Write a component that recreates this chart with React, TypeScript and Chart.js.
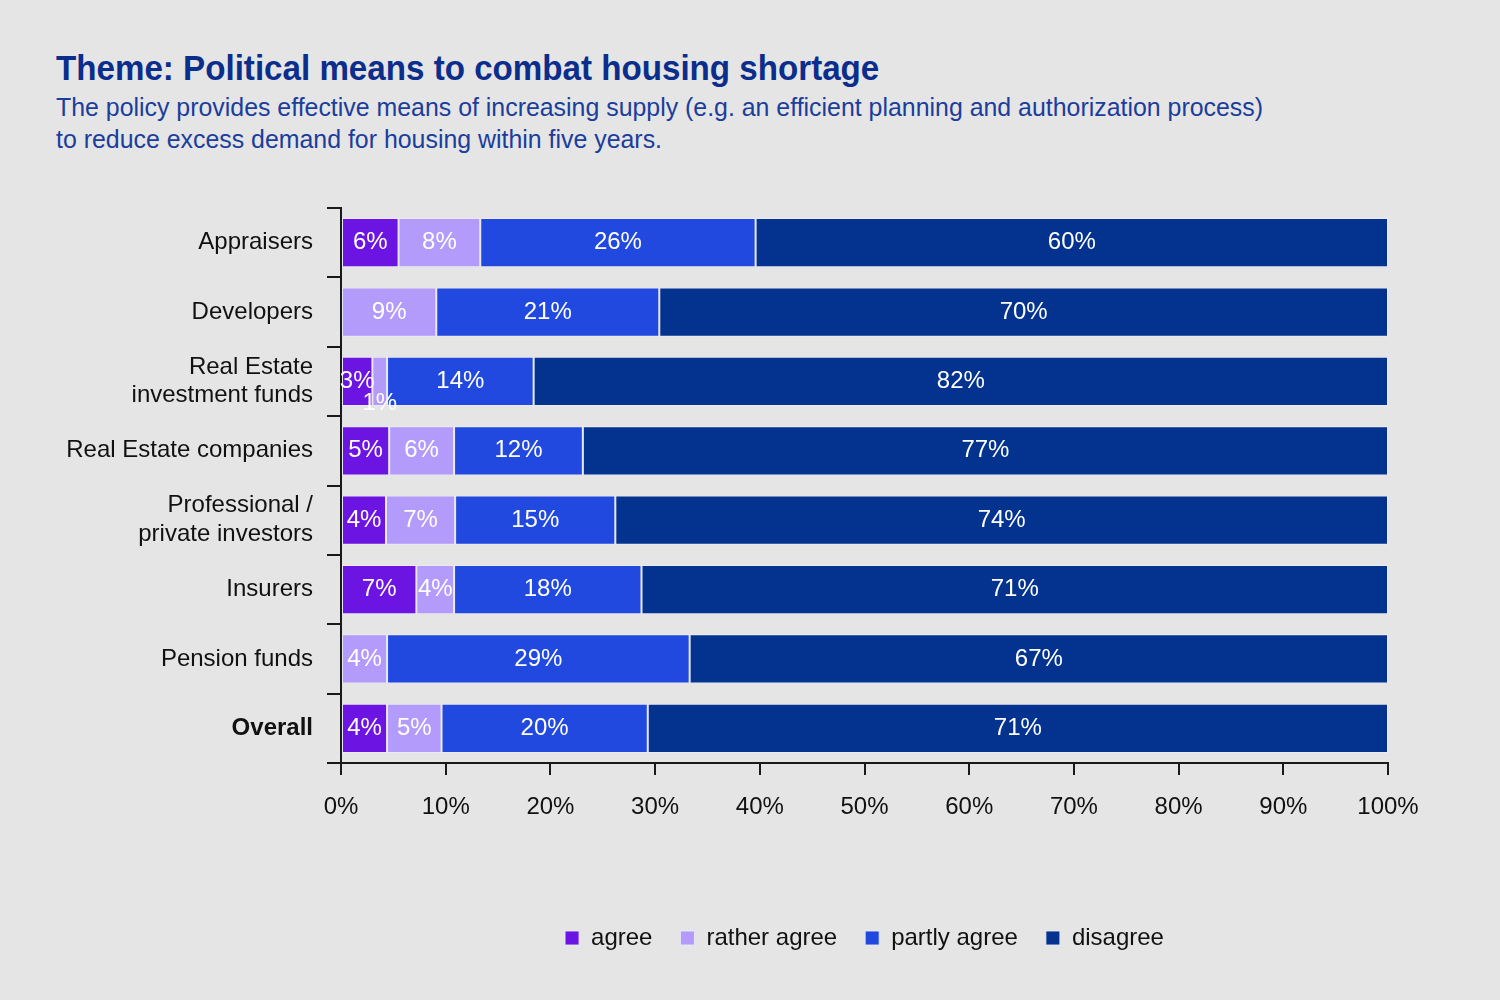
import React, { useEffect, useRef } from "react";
import { Chart, registerables } from "chart.js";

Chart.register(...registerables);

const categories: (string | string[])[] = [
  "Appraisers",
  "Developers",
  ["Real Estate", "investment funds"],
  "Real Estate companies",
  ["Professional /", "private investors"],
  "Insurers",
  "Pension funds",
  "Overall",
];
const agree = [5.5, 0, 3.0, 4.6, 4.3, 7.2, 0, 4.4];
const ratherAgree = [7.8, 9.1, 1.4, 6.2, 6.6, 3.6, 4.4, 5.2];
const partlyAgree = [26.3, 21.3, 14.0, 12.3, 15.3, 17.9, 28.9, 19.7];
const disagree = [60.4, 69.6, 81.6, 76.9, 73.8, 71.3, 66.7, 70.7];
const seriesNames = ["agree", "rather agree", "partly agree", "disagree"];
const seriesColors = ["#6c14e2", "#b39bfb", "#2149e0", "#03338f"];
const xTicks = [0, 10, 20, 30, 40, 50, 60, 70, 80, 90, 100];

const FONT = "'Liberation Sans', Arial, sans-serif";

const barLabels = {
  id: "barLabels",
  afterDatasetsDraw(chart: any) {
    const ctx = chart.ctx;
    ctx.save();
    ctx.font = `24px ${FONT}`;
    ctx.fillStyle = "#ffffff";
    ctx.textAlign = "center";
    ctx.textBaseline = "middle";
    chart.data.datasets.forEach((ds: any, di: number) => {
      const meta = chart.getDatasetMeta(di);
      meta.data.forEach((bar: any, i: number) => {
        const v = ds.data[i];
        if (!v) return;
        const w = Math.abs(bar.x - bar.base);
        const cx = (bar.x + bar.base) / 2;
        const cy = bar.y + (w < 20 ? 22 : 0);
        ctx.fillText(Math.round(v) + "%", cx, cy);
      });
    });
    ctx.restore();
  },
};

export default function App() {
  const ref = useRef<HTMLCanvasElement | null>(null);
  const titleRef = useRef<HTMLSpanElement | null>(null);
  useEffect(() => {
    if (titleRef.current) {
      const w = titleRef.current.offsetWidth;
      if (w > 0) titleRef.current.style.transform = `scaleX(${823 / w})`;
    }
    if (!ref.current) return;
    const data = [agree, ratherAgree, partlyAgree, disagree];
    const chart = new Chart(ref.current, {
      type: "bar",
      data: {
        labels: categories,
        datasets: data.map((d, k) => ({
          label: seriesNames[k],
          data: d,
          backgroundColor: seriesColors[k],
          borderColor: "rgba(235,235,250,0.85)",
          borderWidth: 1,
          borderSkipped: false,
          barPercentage: 0.71,
          categoryPercentage: 1,
        })),
      },
      options: {
        indexAxis: "y",
        animation: false,
        responsive: false,
        devicePixelRatio: 1,
        layout: { padding: { top: 208, left: 0, right: 112, bottom: 40 } },
        plugins: {
          tooltip: { enabled: false },
          title: { display: false },
          legend: {
            position: "bottom",
            fullSize: false,
            labels: {
              boxWidth: 14,
              boxHeight: 14,
              padding: 28,
              color: "#111",
              font: { family: FONT, size: 24 },
            },
          },
        },
        scales: {
          x: {
            stacked: true,
            min: 0,
            max: 100,
            afterBuildTicks: (s: any) => {
              s.ticks = xTicks.map((v) => ({ value: v }));
            },
            afterFit: (s: any) => {
              s.height = 135;
            },
            ticks: {
              callback: (v: any) => v + "%",
              color: "#111",
              padding: 18,
              font: { family: FONT, size: 24 },
            },
            grid: {
              drawOnChartArea: false,
              drawTicks: true,
              tickLength: 12,
              color: "#1a1a1a",
              lineWidth: 2,
            },
            border: { display: true, color: "#1a1a1a", width: 2 },
          },
          y: {
            stacked: true,
            afterFit: (s: any) => {
              s.width = 341;
            },
            ticks: {
              color: "#111",
              padding: 14,
              font: (c: any) => ({
                family: FONT,
                size: 24,
                weight: c.index === 7 ? "bold" : "normal",
              }),
            },
            grid: {
              offset: true,
              drawOnChartArea: false,
              drawTicks: true,
              tickLength: 14,
              color: "#1a1a1a",
              lineWidth: 2,
            },
            border: { display: true, color: "#1a1a1a", width: 2 },
          },
        },
      },
      plugins: [barLabels],
    });
    return () => chart.destroy();
  }, []);

  return (
    <div
      style={{
        position: "fixed",
        left: 0,
        top: 0,
        width: 1500,
        height: 1000,
        background: "#e5e5e5",
        overflow: "hidden",
      }}
    >
      <div
        style={{
          position: "absolute",
          left: 56,
          top: 50,
          fontFamily: FONT,
          fontWeight: "bold",
          fontSize: 35,
          lineHeight: "36px",
          color: "#0b2d8c",
          whiteSpace: "nowrap",
        }}
      >
        <span
          ref={titleRef}
          style={{ display: "inline-block", transformOrigin: "0 50%" }}
        >
          Theme: Political means to combat housing shortage
        </span>
      </div>
      <div
        style={{
          position: "absolute",
          left: 56,
          top: 91,
          fontFamily: FONT,
          fontSize: 24.9,
          lineHeight: "32px",
          color: "#1b3d9c",
          whiteSpace: "nowrap",
        }}
      >
        The policy provides effective means of increasing supply (e.g. an efficient planning and authorization process)
        <br />
        to reduce excess demand for housing within five years.
      </div>
      <canvas
        ref={ref}
        width={1500}
        height={1000}
        style={{ position: "absolute", left: 0, top: 0, width: 1500, height: 1000 }}
      />
    </div>
  );
}
